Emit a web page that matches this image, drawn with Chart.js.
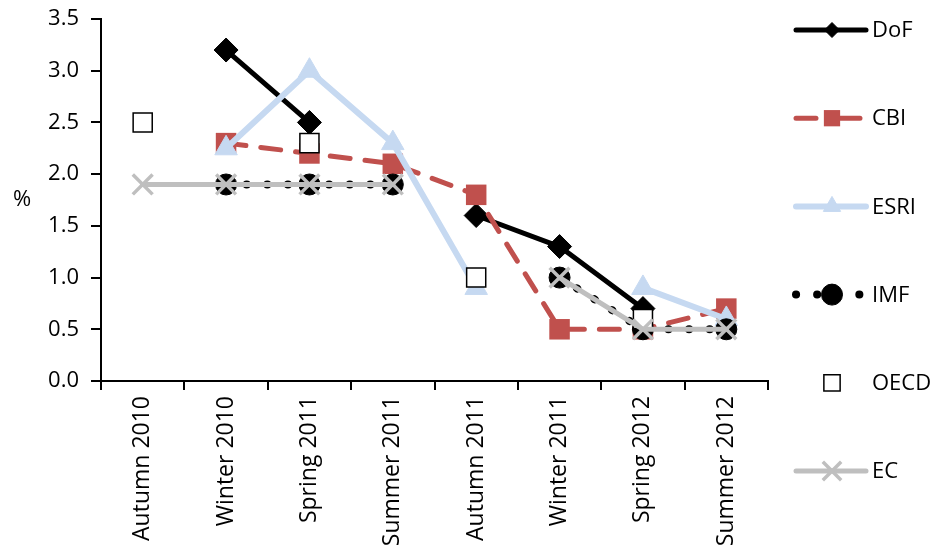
<!DOCTYPE html>
<html>
<head>
<meta charset="utf-8">
<title>Growth forecasts</title>
<script src="https://cdn.jsdelivr.net/npm/chart.js@4.4.0/dist/chart.umd.min.js"></script>
<style>
  html, body { margin: 0; padding: 0; background: #ffffff; }
  #wrap { width: 934px; height: 551px; position: relative; }
</style>
</head>
<body>
<div id="wrap"><canvas id="chart" width="934" height="551"></canvas></div>
<script>
// Forecast rounds
const categories = ['Autumn 2010', 'Winter 2010', 'Spring 2011', 'Summer 2011',
                    'Autumn 2011', 'Winter 2011', 'Spring 2012', 'Summer 2012'];

// Forecasts (%) from each institution; null = no forecast published that round
const dofValues  = [null, 3.2, 2.5, null, 1.6, 1.3, 0.7, null];
const cbiValues  = [null, 2.3, 2.2, 2.1, 1.8, 0.5, 0.5, 0.7];
const esriValues = [null, 2.25, 3.0, 2.3, 0.9, null, 0.9, 0.6];
const imfValues  = [null, 1.9, 1.9, 1.9, null, 1.0, 0.5, 0.5];
const oecdValues = [2.5, null, 2.3, null, 1.0, null, 0.6, null];
const ecValues   = [1.9, 1.9, 1.9, 1.9, null, 1.0, 0.5, 0.5];

// Value axis
const yMin = 0;
const yMax = 3.5;
const yStep = 0.5;
const yTitle = '%';

const FONT = '"Open Sans", "Liberation Sans", sans-serif';

// Series appearance (chart and side legend)
const series = [
  { label: 'DoF', data: dofValues, color: '#000000', width: 5, dash: [], cap: 'round',
    style: 'rectRot', radius: 12, legendRadius: 7.5, fill: '#000000', border: '#000000', pbw: 1 },
  { label: 'CBI', data: cbiValues, color: '#c0504d', width: 5, dash: [20, 15], cap: 'round',
    legendDash: [20, 24], style: 'rect', radius: 14.5, legendRadius: 11.5, fill: '#c0504d', border: '#c0504d', pbw: 0 },
  { label: 'ESRI', data: esriValues, color: '#c6d9f1', width: 6, dash: [], cap: 'round',
    style: 'triangle', radius: 13, legendRadius: 10, fill: '#c6d9f1', border: '#c6d9f1', pbw: 1 },
  { label: 'IMF', data: imfValues, color: '#000000', width: 8, dash: [0.1, 20.5], cap: 'round',
    legendDash: [0.1, 21], style: 'circle', radius: 10.5, legendRadius: 10.5, fill: '#000000', border: '#000000', pbw: 1 },
  { label: 'OECD', data: oecdValues, color: '#000000', width: 0, noLine: true,
    style: 'rect', radius: 13.5, legendRadius: 11.5, fill: '#ffffff', border: '#000000', pbw: 1.5 },
  { label: 'EC', data: ecValues, color: '#bfbfbf', width: 5, dash: [], cap: 'round',
    style: 'crossRot', radius: 14, legendRadius: 13, fill: '#bfbfbf', border: '#bfbfbf', pbw: 3.5 }
];

const datasets = series.map((s, i) => ({
  label: s.label,
  data: s.data,
  showLine: !s.noLine,
  borderColor: s.color,
  borderWidth: s.width,
  borderDash: s.dash || [],
  borderCapStyle: s.cap || 'butt',
  borderJoinStyle: 'round',
  backgroundColor: s.fill,
  pointStyle: s.style,
  pointRadius: s.radius,
  pointHoverRadius: s.radius,
  pointBackgroundColor: s.fill,
  pointBorderColor: s.border,
  pointBorderWidth: s.pbw,
  spanGaps: false,
  tension: 0,
  clip: false,
  // later series are painted over earlier ones
  order: series.length - i
}));

// Legend to the right of the plot, plus the unrotated axis title
const sideLegend = {
  id: 'sideLegend',
  afterDraw(chart) {
    const ctx = chart.ctx;
    const x0 = 796, x1 = 866, xm = 832, xText = 872;
    ctx.save();
    series.forEach((s, i) => {
      const y = 30 + i * 88.2;
      if (!s.noLine) {
        ctx.beginPath();
        ctx.setLineDash(s.legendDash || s.dash || []);
        ctx.lineCap = s.cap || 'butt';
        ctx.lineWidth = s.width;
        ctx.strokeStyle = s.color;
        ctx.moveTo(x0, y);
        ctx.lineTo(x1, y);
        ctx.stroke();
      }
      ctx.setLineDash([]);
      ctx.lineCap = 'butt';
      ctx.fillStyle = s.fill;
      ctx.strokeStyle = s.border;
      ctx.lineWidth = s.pbw;
      Chart.helpers.drawPoint(ctx, {
        pointStyle: s.style, radius: s.legendRadius, borderWidth: s.pbw, rotation: 0
      }, xm, y);
      ctx.fillStyle = '#000000';
      ctx.font = '22px ' + FONT;
      ctx.textAlign = 'left';
      ctx.textBaseline = 'middle';
      ctx.fillText(s.label, xText, y + 1);
    });
    ctx.fillStyle = '#000000';
    ctx.font = '22px ' + FONT;
    ctx.textAlign = 'center';
    ctx.textBaseline = 'middle';
    ctx.fillText(yTitle, 22, 200);
    ctx.restore();
  }
};

Chart.defaults.font.family = FONT;
Chart.defaults.color = '#000000';

new Chart(document.getElementById('chart'), {
  type: 'line',
  data: { labels: categories, datasets },
  options: {
    responsive: false,
    animation: false,
    events: [],
    layout: { padding: { left: 0, right: 166, top: 19, bottom: 0 } },
    plugins: { legend: { display: false }, tooltip: { enabled: false } },
    scales: {
      x: {
        type: 'category',
        offset: true,
        border: { display: true, color: '#000000', width: 2 },
        grid: {
          offset: true, drawOnChartArea: false, drawTicks: true,
          tickLength: 9, color: '#000000', lineWidth: 2
        },
        ticks: {
          autoSkip: false, minRotation: 90, maxRotation: 90,
          padding: 6, color: '#000000', font: { size: 23, family: FONT }
        },
        afterFit(scale) {
          scale.height = 170;
          scale.paddingLeft = 0;
          scale.paddingRight = 0;
        }
      },
      y: {
        min: yMin, max: yMax,
        border: { display: true, color: '#000000', width: 2 },
        grid: {
          drawOnChartArea: false, drawTicks: true,
          tickLength: 10, color: '#000000', lineWidth: 2
        },
        ticks: {
          stepSize: yStep, padding: 12, color: '#000000',
          font: { size: 22, family: FONT },
          callback: v => Number(v).toFixed(1)
        },
        afterFit(scale) {
          scale.width = 101;
          scale.paddingTop = 0;
          scale.paddingBottom = 0;
        }
      }
    }
  },
  plugins: [sideLegend]
});
</script>
</body>
</html>
